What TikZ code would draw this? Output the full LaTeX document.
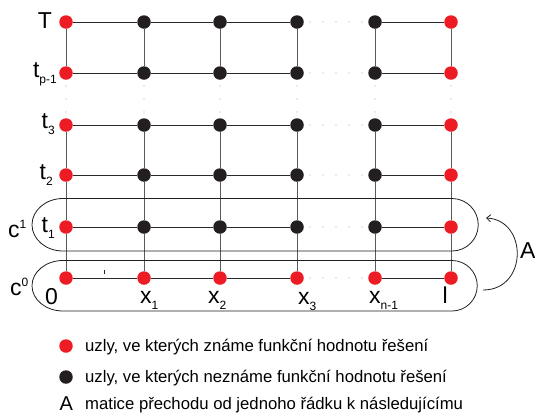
\documentclass[tikz,border=0pt]{standalone}
\usepackage{fontspec}
\setmainfont{Liberation Sans}
\usetikzlibrary{arrows.meta,calc}
\definecolor{nred}{HTML}{ED1C24}
\definecolor{nblack}{HTML}{231F20}
\definecolor{gline}{HTML}{2A2A2A}
\definecolor{vline}{HTML}{5A5A5A}
\newcommand{\sbs}[1]{\raisebox{-6.5pt}{\fontsize{12}{12}\selectfont #1}}
\newcommand{\sps}[1]{\raisebox{9pt}{\fontsize{12}{12}\selectfont #1}}
\begin{document}
\begin{tikzpicture}[x=1pt,y=1pt,
  known/.style={circle, fill=nred, inner sep=0pt, minimum size=13.5pt},
  unknown/.style={circle, fill=nblack, inner sep=0pt, minimum size=13.5pt},
  gridline/.style={draw=gline, line width=0.9pt},
  vgridline/.style={draw=vline, line width=0.9pt},
  bandline/.style={draw=nblack, line width=0.8pt},
  dotmark/.style={fill=gray!70},
  lbl/.style={inner sep=0pt, font=\fontsize{23}{23}\selectfont},
  leg/.style={inner sep=0pt, anchor=base west, font=\fontsize{16.7}{20}\selectfont}]
\useasboundingbox (0,0) rectangle (535,-413);
% grid nodes
\foreach \i/\x in {0/66,1/144,2/220,3/297,4/375,5/451}{
  \foreach \j/\y in {0/278,1/227,2/175,3/125,4/73,5/22}{
    \ifnum\i=0 \def\st{known}\else\ifnum\i=5 \def\st{known}\else\ifnum\j=0 \def\st{known}\else\def\st{unknown}\fi\fi\fi
    \node[\st] (n\i\j) at (\x,-\y) {};
  }
}
% horizontal lines
\foreach \j in {0,...,5}{
  \draw[gridline] (n0\j) -- (n1\j) -- (n2\j) -- (n3\j);
  \draw[gridline] (n4\j) -- (n5\j);
  \foreach \t in {1,...,5}{
    \fill[dotmark] ($(n3\j)!\t/6!(n4\j)$) circle (0.7);
  }
}
% vertical lines
\foreach \i in {0,...,5}{
  \draw[vgridline] (n\i0) -- (n\i1) -- (n\i2) -- (n\i3);
  \draw[vgridline] (n\i4) -- (n\i5);
  \foreach \t in {1,2,3}{
    \fill[dotmark] ($(n\i3)!\t/4!(n\i4)$) circle (0.7);
  }
}
% bands
\draw[bandline] (63,-198.5) -- (452,-198.5) arc[start angle=90, end angle=-90, radius=26.25]
  -- (63,-251) arc[start angle=270, end angle=90, x radius=31, y radius=26.25] -- cycle;
\draw[bandline] (63,-260.5) -- (452,-260.5) arc[start angle=90, end angle=-90, radius=25.25]
  -- (63,-311) arc[start angle=270, end angle=90, x radius=31, y radius=25.25] -- cycle;
% small tick
\draw[nblack, line width=0.8pt] (104,-270) -- (104,-273.5);
% arrow A
\coordinate (a0) at (483,-290);
\coordinate (a1) at (486,-218);
\draw[bandline, -{Straight Barb[length=4pt,width=7pt]}] (a0) .. controls (528,-290) and (528,-220) .. (a1);
\node[lbl, anchor=base west] (lA) at (520,-258) {A};
% row labels
\node[lbl, anchor=base east] (lT) at (52,-28) {T};
\node[lbl, anchor=base east] (ltp) at (57,-77) {t\sbs{p-1}};
\node[lbl, anchor=base east] (lt3) at (55,-128) {t\sbs{3}};
\node[lbl, anchor=base east] (lt2) at (53,-179) {t\sbs{2}};
\node[lbl, anchor=base east] (lt1) at (55,-232) {t\sbs{1}};
\node[lbl, anchor=base west] (lc1) at (8,-237) {c\sps{1}};
\node[lbl, anchor=base west] (lc0) at (10,-295) {c\sps{0}};
% column labels
\node[lbl, anchor=base west] (l0) at (45,-304) {0};
\node[lbl, anchor=base west] (lx1) at (140,-303) {x\sbs{1}};
\node[lbl, anchor=base west] (lx2) at (208,-303) {x\sbs{2}};
\node[lbl, anchor=base west] (lx3) at (298,-304) {x\sbs{3}};
\node[lbl, anchor=base west] (lxn) at (369,-303) {x\sbs{n-1}};
\node[lbl, anchor=base west] (ll) at (442.5,-303) {l};
% legend
\node[known] (k1) at (66,-346) {};
\node[leg] (t1) at (85,-351.7) {uzly, ve kterých známe funkční hodnotu řešení};
\node[unknown] (k2) at (66,-377) {};
\node[leg] (t2) at (85,-382) {uzly, ve kterých neznáme funkční hodnotu řešení};
\node[inner sep=0pt, anchor=base west, font=\fontsize{20}{20}\selectfont] (k3) at (59.5,-410) {A};
\node[leg] (t3) at (85,-409.5) {matice přechodu od jednoho řádku k následujícímu};
\end{tikzpicture}
\end{document}
